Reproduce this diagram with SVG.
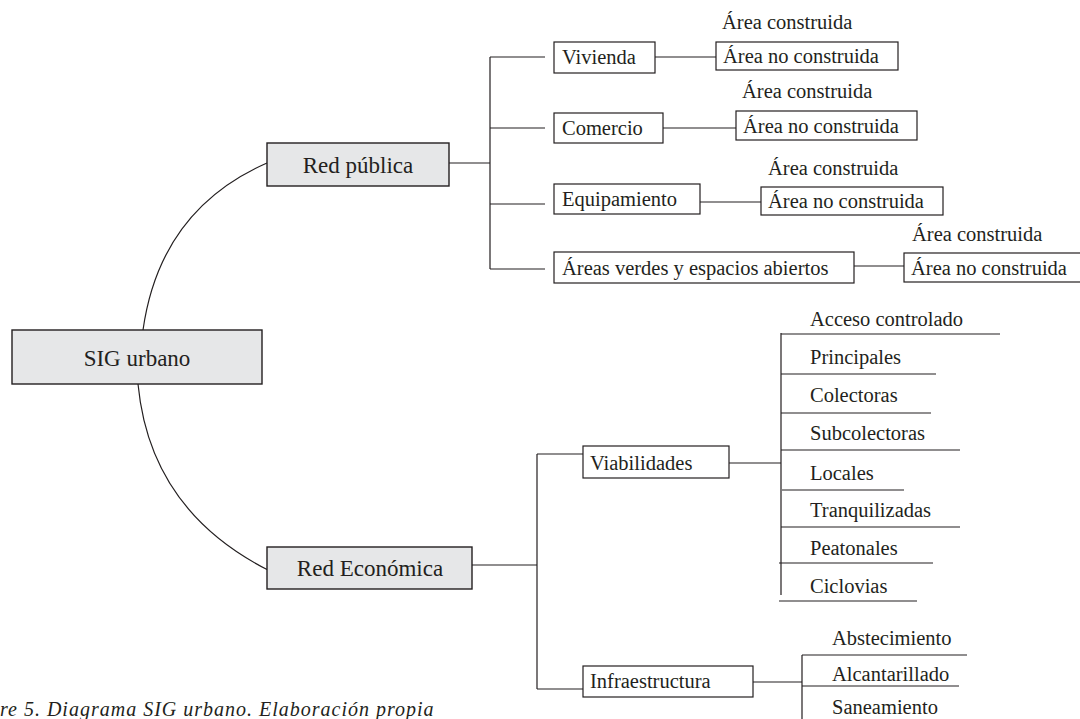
<svg xmlns="http://www.w3.org/2000/svg" width="1080" height="719" viewBox="0 0 1080 719">
<style>
text{font-family:"Liberation Serif","Times New Roman",serif;fill:#231f20;font-size:20.5px}
.big{font-size:23px;text-anchor:middle}
.main{fill:#e6e7e8;stroke:#231f20;stroke-width:1.4}
.box{fill:#fff;stroke:#231f20;stroke-width:1.2}
.c{fill:none;stroke:#231f20;stroke-width:1.2}
.cap{font-style:italic;font-size:20px;letter-spacing:1px}
</style>
<rect width="1080" height="719" fill="#fff"/>
<g id="connectors">
<path class="c" d="M143,330 Q160,210 267,163"/>
<path class="c" d="M138,384 Q150,510 268,570"/>
<path class="c" d="M449,163 H490 M490,57 V269 M490,57 H545 M490,128 H545 M490,204 H545 M490,269 H545"/>
<path class="c" d="M655,57 H716 M663,128 H736 M700,202 H761 M854,266 H904"/>
<path class="c" d="M472,565 H537 M537,454 V689 M537,454 H583 M537,689 H583"/>
<path class="c" d="M729,463 H781 M781,333 V595 M781,334 H1000 M781,374 H936 M781,413 H931 M781,450 H960 M782,490 H904 M781,527 H960 M779,563 H933 M779,601 H917"/>
<path class="c" d="M753,682 H802 M802,655 V719 M802,655 H967 M802,686 H959"/>
</g>
<g id="sig-urbano"><rect class="main" x="12" y="330" width="250" height="54"/><text class="big" x="137" y="366">SIG urbano</text></g>
<g id="red-publica"><rect class="main" x="267" y="143" width="182" height="43"/><text class="big" x="358" y="173">Red pública</text></g>
<g id="red-economica"><rect class="main" x="267" y="547" width="205" height="42"/><text class="big" x="370" y="576">Red Económica</text></g>
<g id="vivienda"><rect class="box" x="554" y="42" width="101" height="31"/><text x="562" y="64">Vivienda</text></g>
<g id="comercio"><rect class="box" x="554" y="113" width="109" height="30"/><text x="562" y="135">Comercio</text></g>
<g id="equipamiento"><rect class="box" x="554" y="184" width="146" height="30"/><text x="562" y="206">Equipamiento</text></g>
<g id="areas-verdes"><rect class="box" x="554" y="252" width="300" height="31"/><text x="562" y="275">Áreas verdes y espacios abiertos</text></g>
<g id="vivienda-areas"><text x="722" y="29">Área construida</text><rect class="box" x="716" y="42" width="182" height="28"/><text x="723" y="63">Área no construida</text></g>
<g id="comercio-areas"><text x="742" y="98">Área construida</text><rect class="box" x="736" y="111" width="181" height="29"/><text x="743" y="133">Área no construida</text></g>
<g id="equipamiento-areas"><text x="768" y="175">Área construida</text><rect class="box" x="761" y="187" width="182" height="28"/><text x="768" y="208">Área no construida</text></g>
<g id="verdes-areas"><text x="912" y="241">Área construida</text><rect class="box" x="904" y="253" width="178" height="29"/><text x="911" y="275">Área no construida</text></g>
<g id="viabilidades"><rect class="box" x="583" y="446" width="146" height="32"/><text x="590" y="470">Viabilidades</text></g>
<g id="vias">
<text x="810" y="326">Acceso controlado</text>
<text x="810" y="364">Principales</text>
<text x="810" y="402">Colectoras</text>
<text x="810" y="440">Subcolectoras</text>
<text x="810" y="480">Locales</text>
<text x="810" y="517">Tranquilizadas</text>
<text x="810" y="555">Peatonales</text>
<text x="810" y="593">Ciclovias</text>
</g>
<g id="infraestructura"><rect class="box" x="583" y="666" width="170" height="31"/><text x="590" y="688">Infraestructura</text></g>
<g id="servicios">
<text x="832" y="645">Abstecimiento</text>
<text x="832" y="681">Alcantarillado</text>
<text x="832" y="714">Saneamiento</text>
</g>
<text class="cap" x="0" y="716">re 5. Diagrama SIG urbano. Elaboración propia</text>
</svg>
